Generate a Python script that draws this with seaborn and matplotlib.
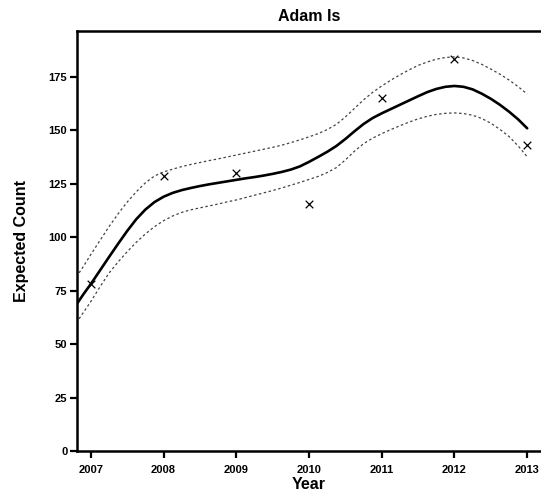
import numpy as np
import pandas as pd
import seaborn as sns
from matplotlib import pyplot as plt

# observed counts
years = [2007, 2008, 2009, 2010, 2011, 2012, 2013]
observed = [78, 128.5, 130, 115.5, 165.3, 183.2, 143]

# fitted curve and its band
fit_x = [2006.8, 2006.9,
         2007.0, 2007.125, 2007.25, 2007.375, 2007.5, 2007.625, 2007.75, 2007.875,
         2008.0, 2008.125, 2008.25, 2008.375, 2008.5, 2008.625, 2008.75, 2008.875,
         2009.0, 2009.125, 2009.25, 2009.375, 2009.5, 2009.625, 2009.75, 2009.875,
         2010.0, 2010.125, 2010.25, 2010.375, 2010.5, 2010.625, 2010.75, 2010.875,
         2011.0, 2011.125, 2011.25, 2011.375, 2011.5, 2011.625, 2011.75, 2011.875,
         2012.0, 2012.125, 2012.25, 2012.375, 2012.5, 2012.625, 2012.75, 2012.875,
         2013.0]
fit_mid = [68.5, 73.5, 78.2, 84.5, 90.8, 97, 103, 108.5, 113, 116.5,
           119, 120.8, 122.1, 123.1, 124, 124.8, 125.5, 126.2, 126.9, 127.6,
           128.2, 128.9, 129.7, 130.6, 131.7, 133.2, 135.3, 137.6, 140, 142.7,
           146, 149.6, 153, 155.8, 158, 160, 162, 164, 166, 167.9,
           169.4, 170.4, 170.8, 170.4, 169.2, 167.2, 164.8, 162, 158.8, 155.2,
           151]
fit_hi = [81.5, 86.5, 92, 98.5, 105, 111, 116.5, 121.3, 125.5, 128.7,
          130.6, 131.9, 133.1, 134.1, 135, 135.9, 136.7, 137.6, 138.5, 139.4,
          140.3, 141.2, 142.1, 143.1, 144.3, 145.6, 147, 148.5, 150.4, 152.8,
          156.3, 160.3, 164.3, 167.8, 170.8, 173.5, 176, 178.3, 180.4, 182,
          183.3, 184.1, 184.4, 183.9, 182.7, 180.9, 178.7, 176.3, 173.6, 170.5,
          167]
fit_lo = [60, 65, 70, 76.8, 83.3, 88.5, 93.3, 97.7, 101.6, 105,
          107.8, 110, 111.7, 112.9, 113.8, 114.7, 115.6, 116.6, 117.5, 118.6,
          119.7, 120.8, 121.9, 123.1, 124.4, 125.7, 127.1, 128.5, 130.3, 132.6,
          136.2, 140.3, 143.8, 146.4, 148.5, 150.4, 152.2, 153.9, 155.4, 156.6,
          157.5, 158, 158.2, 157.9, 157.1, 155.6, 153.4, 150.5, 147.2, 142.8,
          137.7]

sns.set_style("ticks")
plt.rcParams['font.family'] = ['Liberation Sans', 'DejaVu Sans']
plt.rcParams['font.weight'] = 'bold'

fit = pd.DataFrame({'Year': fit_x, 'mid': fit_mid, 'hi': fit_hi, 'lo': fit_lo})
obs = pd.DataFrame({'Year': years, 'Count': observed})

fig = plt.figure(figsize=(5.41, 4.95), dpi=100)
ax = fig.add_axes([0.1423, 0.0883, 0.8577, 0.8491])

sns.lineplot(data=fit, x='Year', y='mid', color='black', linewidth=1.9, ax=ax)
for col in ['hi', 'lo']:
    sns.lineplot(data=fit, x='Year', y=col, color='#444444', linewidth=0.9,
                 linestyle=(0, (2, 2)), ax=ax)
sns.scatterplot(data=obs, x='Year', y='Count', marker='x', color='black',
                s=30, linewidth=0.9, ax=ax)

ax.set_xlim(2006.81, 2013.19)
ax.set_ylim(0, 196.5)
ax.set_xticks(years)
ax.set_yticks([0, 25, 50, 75, 100, 125, 150, 175])
ax.tick_params(axis='both', labelsize=8, width=1.6, length=5, color='black',
               labelcolor='black')
ax.tick_params(axis='x', pad=5)
ax.tick_params(axis='y', pad=2)
for lab in ax.get_xticklabels() + ax.get_yticklabels():
    lab.set_fontweight('bold')

for side in ['left', 'bottom', 'top']:
    ax.spines[side].set_linewidth(1.8)
    ax.spines[side].set_color('black')
ax.spines['right'].set_visible(False)

ax.set_title('Adam Is', fontsize=11.5, fontweight='bold', pad=7, color='black')
ax.set_xlabel('Year', fontsize=11.5, fontweight='bold', labelpad=1, color='black')
ax.set_ylabel('Expected Count', fontsize=11.5, fontweight='bold', labelpad=14,
              color='black')

fig.savefig('out.png', dpi=100)
